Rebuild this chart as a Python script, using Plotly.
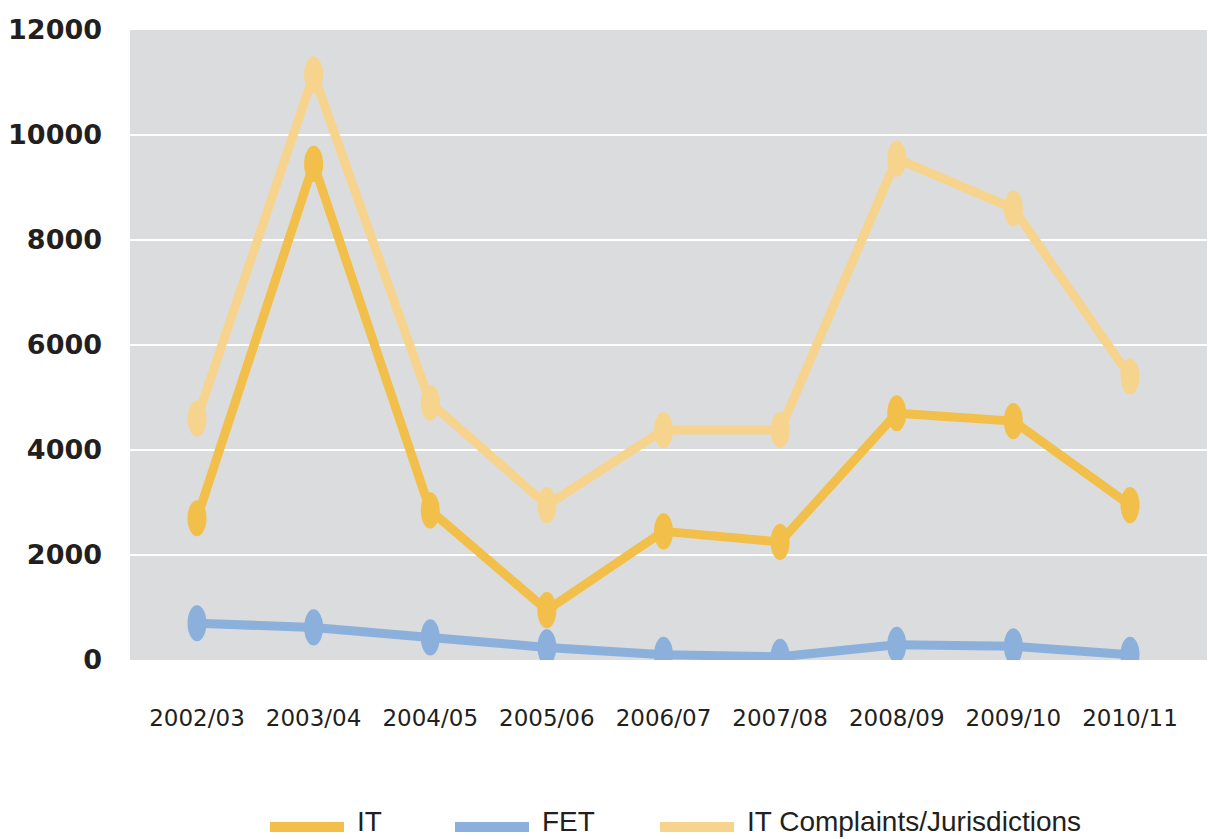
import plotly.graph_objects as go

years = ["2002/03", "2003/04", "2004/05", "2005/06", "2006/07", "2007/08", "2008/09", "2009/10", "2010/11"]
it_values = [2700, 9450, 2850, 950, 2450, 2250, 4700, 4550, 2950]
fet_values = [700, 620, 430, 240, 100, 60, 290, 260, 100]
complaints_values = [4600, 11150, 4900, 2950, 4380, 4380, 9550, 8600, 5400]
y_ticks = [0, 2000, 4000, 6000, 8000, 10000, 12000]

series_names = ["IT", "FET", "IT Complaints/Jurisdictions"]
series_values = [it_values, fet_values, complaints_values]
series_colors = ["#F2C04A", "#8CB0DC", "#F7D48E"]

# figure geometry (the page adds an 8px body margin)
W, H = 1215, 831
ML, MR, MT, MB = 122, 0, 22, 179
PW, PH = W - ML - MR, H - MT - MB

# horizontal placement of first/last category (figure pixels)
first_px, last_px = 189, 1122
unit_px = (last_px - first_px) / (len(years) - 1)
x_range = [-(first_px - ML) / unit_px, (len(years) - 1) + (W - MR - last_px) / unit_px]


def px_to_paper_x(px):
    return (px - ML) / PW


def px_to_paper_y(py):
    return (H - MB - py) / PH


fig = go.Figure()
idx = list(range(len(years)))
for name, vals, color in zip(series_names, series_values, series_colors):
    fig.add_trace(go.Scatter(
        x=idx, y=vals, mode="lines", name=name, showlegend=False,
        line=dict(color=color, width=9),
    ))

# elliptical markers drawn in data coordinates
shapes = []
dx, dy = 9.5 / unit_px, 345
for vals, color in zip(series_values, series_colors):
    for i, v in zip(idx, vals):
        shapes.append(dict(type="circle", xref="x", yref="y",
                           x0=i - dx, x1=i + dx, y0=v - dy, y1=v + dy,
                           fillcolor=color, line=dict(width=0), layer="above"))

# custom legend (wide line samples)
legend_sample_x = [262, 447, 652]
sample_len = 74
sample_y = 819
text_bottom = 830
annotations = []
for name, color, sx in zip(series_names, series_colors, legend_sample_x):
    shapes.append(dict(type="line", xref="paper", yref="paper",
                       x0=px_to_paper_x(sx), x1=px_to_paper_x(sx + sample_len),
                       y0=px_to_paper_y(sample_y), y1=px_to_paper_y(sample_y),
                       line=dict(color=color, width=10)))
    annotations.append(dict(xref="paper", yref="paper",
                            x=px_to_paper_x(sx + sample_len + 12), y=px_to_paper_y(text_bottom),
                            xanchor="left", yanchor="bottom", showarrow=False, text=name,
                            borderpad=0,
                            font=dict(family="Liberation Sans Narrow, Arial Narrow, Liberation Sans, sans-serif",
                                      size=28, color="#231F20")))

fig.update_layout(
    width=W, height=H,
    margin=dict(l=ML, r=MR, t=MT, b=MB, autoexpand=False),
    paper_bgcolor="white", plot_bgcolor="#DBDCDE",
    shapes=shapes,
    annotations=annotations,
    showlegend=False,
    xaxis=dict(range=x_range, tickmode="array", tickvals=idx, ticktext=years,
               showgrid=False, zeroline=False, showline=False, automargin=False,
               tickfont=dict(family="DejaVu Sans, Verdana, sans-serif", size=23, color="#231F20"),
               ticks="", ticklabelstandoff=42, fixedrange=True),
    yaxis=dict(range=[0, 12000], tickvals=y_ticks, ticktext=[str(t) for t in y_ticks],
               showgrid=True, gridcolor="white", gridwidth=2, zeroline=False, showline=False,
               automargin=False,
               tickfont=dict(family="DejaVu Sans, Verdana, sans-serif", size=27, color="#231F20",
                             weight="bold"),
               ticks="", ticklabelstandoff=27, fixedrange=True),
)

fig.write_html("out.html")
